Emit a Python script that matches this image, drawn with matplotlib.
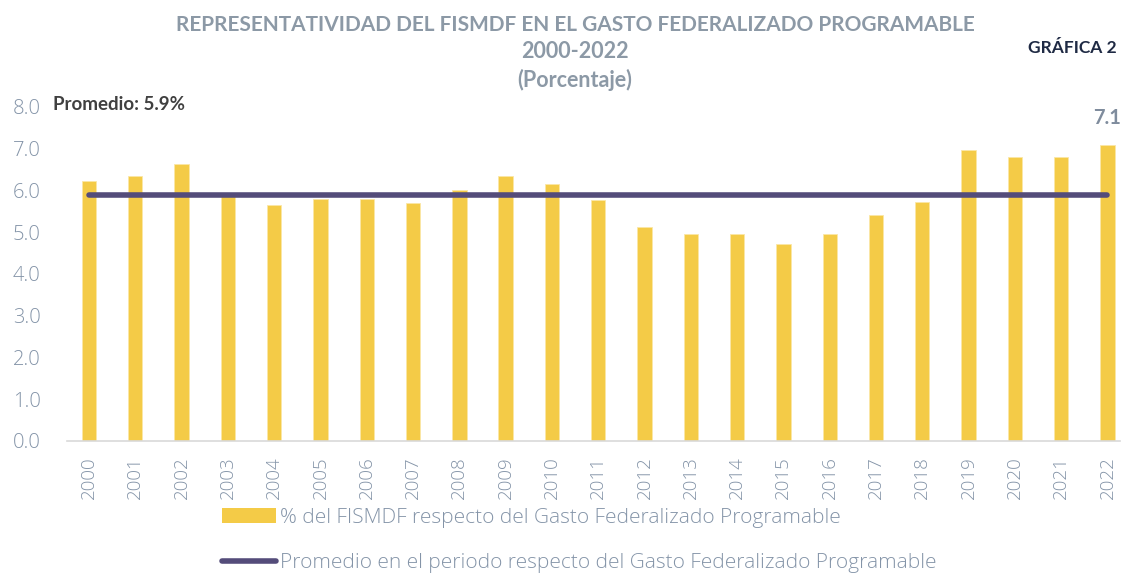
import matplotlib
matplotlib.use("Agg")
import matplotlib.pyplot as plt
from matplotlib.lines import Line2D
from matplotlib.patches import Patch

# datos
anios = [str(a) for a in range(2000, 2023)]
porcentaje = [6.23, 6.35, 6.64, 5.90, 5.65, 5.80, 5.80, 5.69, 6.00, 6.34, 6.15, 5.78,
              5.12, 4.95, 4.96, 4.72, 4.96, 5.41, 5.72, 6.98, 6.79, 6.80, 7.09]
promedio = 5.9
yticks = [0, 1, 2, 3, 4, 5, 6, 7, 8]

amarillo = "#F4CB47"
morado = "#544C7A"
gris = "#8494A8"
gris_titulo = "#8C99A6"
ligera = ['Open Sans', 'DejaVu Sans']

plt.rcParams['font.family'] = ['Lato', 'DejaVu Sans']

fig = plt.figure(figsize=(11.22, 5.73), dpi=100)
ax = fig.add_axes([0.0597, 0.2304, 0.9385, 0.5829])

x = list(range(len(anios)))
barras = ax.bar(x, porcentaje, width=0.31, color=amarillo, edgecolor="#FBE7A6", linewidth=0.6, zorder=2)
linea, = ax.plot([x[0], x[-1]], [promedio, promedio], color=morado, lw=4, solid_capstyle="round", zorder=3)

ax.set_xlim(-0.475, 22.27)
ax.set_ylim(0, 8)
ax.set_xticks(x)
ax.set_xticklabels(anios, rotation=90, fontsize=13.5, color=gris, family=ligera, fontweight=300)
ax.set_yticks(yticks)
ax.set_yticklabels([f"{v:.1f}" for v in yticks], fontsize=14.5, color=gris, family=ligera, fontweight=300)
ax.tick_params(axis="y", length=0, pad=19)
ax.tick_params(axis="x", length=0, pad=11)
for s in ["top", "right", "left"]:
    ax.spines[s].set_visible(False)
ax.spines["bottom"].set_color("#D9D9D9")
ax.spines["bottom"].set_linewidth(1.2)

# etiqueta ultimo valor
ax.annotate(f"{porcentaje[-1]:.1f}", (x[-1], porcentaje[-1]), xytext=(0, 12), textcoords="offset points",
            ha="center", va="bottom", fontsize=14.5, fontweight="bold", color="#7F8C9D")

fig.text(53 / 1122, 1 - 105 / 573, f"Promedio: {promedio}%", fontsize=13.5, fontweight="bold",
         color="#404040", va="center", ha="left")

# titulos
fig.text(575 / 1122, 1 - 25 / 573, "REPRESENTATIVIDAD DEL FISMDF EN EL GASTO FEDERALIZADO PROGRAMABLE",
         ha="center", va="center", fontsize=15, fontweight="bold", color=gris_titulo)
fig.text(575 / 1122, 1 - 52 / 573, "2000-2022", ha="center", va="center", fontsize=15.5,
         fontweight="bold", color=gris_titulo)
fig.text(575 / 1122, 1 - 80 / 573, "(Porcentaje)", ha="center", va="center", fontsize=15.5,
         fontweight="bold", color=gris_titulo)
fig.text(1117 / 1122, 1 - 48 / 573, "GRÁFICA 2", ha="right", va="center", fontsize=12.5,
         fontweight="bold", color="#1F2A44")

handles = [Patch(facecolor=amarillo, edgecolor="none"),
           Line2D([0], [0], color=morado, lw=4, solid_capstyle="round")]
labels = ["% del FISMDF respecto del Gasto Federalizado Programable",
          "Promedio en el periodo respecto del Gasto Federalizado Programable"]
fig.legend(handles, labels, loc="upper left", bbox_to_anchor=(222 / 1122, 1 - 508 / 573),
           frameon=False, labelcolor=gris, handlelength=2.6, handleheight=0.7,
           handletextpad=0.2, labelspacing=1.2, borderpad=0, borderaxespad=0,
           prop={"family": ligera, "weight": 300, "size": 15})

fig.savefig("out.png", dpi=100)
